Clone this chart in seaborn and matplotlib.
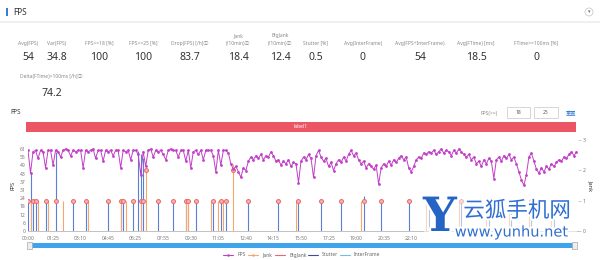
import numpy as np
import pandas as pd
import seaborn as sns
import matplotlib
matplotlib.use("Agg")
import matplotlib.pyplot as plt
from matplotlib.patches import Rectangle, Ellipse
from matplotlib.lines import Line2D
import matplotlib.patheffects as pe

# ---------------- data ----------------
stat_labels = ["Avg(FPS)", "Var(FPS)", "FPS>=18 [%]", "FPS>=25 [%]", "Drop(FPS) [/h]ⓘ",
               "(/10min)ⓘ", "(/10min)ⓘ", "Stutter [%]", "Avg(InterFrame)",
               "Avg(FPS+InterFrame)", "Avg(FTime) [ms]", "FTime>=100ms [%]"]
stat_top = ["", "", "", "", "", "Jank", "BigJank", "", "", "", "", ""]
stat_values = ["54", "34.8", "100", "100", "83.7", "18.4", "12.4", "0.5", "0", "54", "18.5", "0"]
delta_label = "Delta(FTime)>100ms [/h]ⓘ"
delta_value = "74.2"

fps = [
    60, 43, 59, 60, 54, 60, 59, 47, 60, 60, 49, 60, 59, 55, 60, 61, 60, 56, 60, 59,
    60, 60, 47, 60, 59, 60, 61, 54, 60, 60, 52, 60, 59, 60, 56, 60, 60, 47, 60, 59,
    60, 53, 60, 60, 57, 42, 59, 48, 60, 61, 55, 60, 59, 60, 57, 53, 60, 61, 60, 60,
    55, 60, 60, 52, 60, 47, 59, 60, 57, 60, 53, 60, 60, 60, 56, 44, 60, 49, 60, 60,
    58, 50, 46, 48, 44, 40, 47, 45, 52, 55, 53, 56, 54, 57, 53, 56, 55, 59, 56, 52,
    53, 49, 52, 50, 53, 48, 51, 50, 36, 52, 55, 53, 57, 54, 40, 56, 60, 55, 52, 54,
    48, 51, 45, 50, 53, 51, 55, 52, 57, 60, 56, 58, 53, 50, 52, 47, 50, 48, 46, 49,
    35, 47, 50, 48, 52, 49, 53, 51, 54, 56, 53, 55, 47, 44, 48, 53, 55, 54, 58, 57,
    59, 58, 60, 57, 59, 61, 58, 60, 59, 56, 60, 58, 61, 59, 57, 55, 57, 53, 55, 50,
    52, 48, 53, 50, 54, 52, 39, 53, 55, 52, 56, 54, 57, 53, 55, 50, 44, 38, 34, 42,
    55, 58, 52, 46, 43, 47, 44, 48, 46, 50, 48, 51, 53, 52, 55, 54, 57, 59, 56, 59,
]

# stutter spikes (sample index, height in Jank-axis units)
stutter_idx = [0, 1, 2, 3, 7, 11, 18, 23, 32, 37, 38, 42, 44, 45, 46, 52, 58, 63, 64, 67,
               74, 77, 79, 88, 100, 108, 117, 125, 134, 141, 152, 160, 173, 184, 193, 201, 210]
stutter_val = [1, 1.9, 1, 0.95, 1, 2.6, 1, 1, 1, 0.9, 1, 1, 2.65, 2.55, 2.4, 1, 1, 1, 0.8, 1,
               1, 1, 1, 1, 1, 1, 1, 1, 1.15, 1, 1, 0.9, 1, 1, 1, 1, 1]
# jank spikes
jank_idx = [1, 4, 8, 14, 24, 37, 39, 45, 47, 63, 64, 73, 76, 78, 82, 107, 133, 159, 172, 183, 192, 200, 209]
jank_val = [1, 1, 1, 1, 1, 1, 1, 1, 2, 1, 1, 1, 1, 1, 2.2, 1, 1, 1, 1, 1, 1, 1, 1]
# big-jank markers
bj_idx = [0, 2, 3, 7, 11, 18, 23, 32, 37, 38, 42, 45, 46, 47, 52, 58, 63, 64, 67, 74, 77, 79,
          82, 88, 100, 108, 117, 125, 134, 141, 152, 160, 173, 184, 193, 201, 210]
bj_val = [1, 1, 1, 1, 1, 1, 1, 1, 1, 1, 1, 1, 1, 2, 1, 1, 1, 1, 1, 1, 1, 1,
          2, 1, 1, 1, 1, 1, 1, 1, 1, 1, 1, 1, 1, 1, 1]

# labels beyond 22:10 are hidden under the watermark in the reference
time_labels = ["00:00", "01:25", "03:10", "04:45", "06:25", "07:55", "09:30", "11:05", "12:40",
               "14:15", "15:50", "17:25", "19:00", "20:35", "22:10", "", "", "", "", ""]
fps_ticks = [0, 6, 12, 18, 24, 31, 37, 43, 49, 55, 61]
jank_ticks = [0, 1, 2, 3]

legend_names = ["FPS", "Jank", "BigJank", "Stutter", "InterFrame"]

# ---------------- style ----------------
sns.set_theme(style="white")
plt.rcParams['font.family'] = ['Noto Sans', 'Noto Sans CJK SC', 'DejaVu Sans']

C_FPS = "#c23fc8"
C_JANK = "#f7a46e"
C_BIG = "#ee6666"
C_STUT = "#5b7fd2"
C_STUT_LEG = "#3e4f96"
C_INTER = "#73c0de"
C_BLUE = "#3a7bd5"
GRAY = "#8a8a8a"
DARK = "#333333"

W, H = 600, 260
fig = plt.figure(figsize=(6, 2.6), dpi=100)
fig.patch.set_facecolor("white")


def fx(x):
    return x / W


def fy(y):
    return 1 - y / H


def T(x, y, s, **kw):
    kw.setdefault("ha", "center")
    kw.setdefault("va", "center")
    fig.text(fx(x), fy(y), s, **kw)


# header
fig.add_artist(Rectangle((fx(6), fy(16)), 2 / W, 8 / H, transform=fig.transFigure,
                         color=C_BLUE, lw=0))
T(13, 12, "FPS", ha="left", fontsize=6, weight="bold", color=DARK)
fig.add_artist(Ellipse((fx(589), fy(12)), 8 / W, 8 / H, transform=fig.transFigure,
                       facecolor="white", edgecolor="#cccccc", lw=0.6))
T(589, 12, "▾", fontsize=3.5, color="#666666", family=["DejaVu Sans"])
fig.add_artist(Line2D([0, 1], [fy(22), fy(22)], transform=fig.transFigure,
                      color="#f0f0f0", lw=1.5))

# stats
stat_x = [28, 57, 99, 143, 190, 238, 280, 316, 363, 420, 476, 536]
for x, lab, top, val in zip(stat_x, stat_labels, stat_top, stat_values):
    T(x, 43, lab, fontsize=3.6, color=GRAY)
    if top:
        T(x, 35.5, top, fontsize=3.6, color=GRAY)
    T(x, 58, val, fontsize=7.5, weight="bold", color=DARK)
T(51, 76, delta_label, fontsize=3.6, color=GRAY)
T(52, 93, delta_value, fontsize=7.5, weight="bold", color=DARK)

# chart header
T(16, 113, "FPS", fontsize=4.5, weight="bold", color=DARK)
T(489, 113, "FPS(>=)", fontsize=3.6, color=GRAY)
for (x0, x1), s in zip([(507, 530), (534, 558)], ["18", "25"]):
    fig.add_artist(Rectangle((fx(x0), fy(118)), (x1 - x0) / W, 11 / H,
                             transform=fig.transFigure, facecolor="white",
                             edgecolor="#d0d0d0", lw=0.6))
    T((x0 + x1) / 2, 112.5, s, fontsize=3.6, color="#555555")
T(571, 112.5, "重置", fontsize=3.8, color=C_BLUE)

# red label bar
fig.add_artist(Rectangle((fx(26), fy(132)), 550 / W, 10 / H, transform=fig.transFigure,
                         color="#ec5563", lw=0))
T(301, 127, "label1", fontsize=3.6, color="white")

# ---------------- main axes ----------------
ax = fig.add_axes([fx(28), fy(231), 550 / W, 91 / H])
ax2 = ax.twinx()
ax.set_zorder(ax2.get_zorder() + 1)
ax.patch.set_visible(False)

n = len(fps)
df = pd.DataFrame({"idx": np.arange(n), "fps": fps})

# spikes & markers on Jank axis
ax2.vlines(stutter_idx, 0, stutter_val, color=C_STUT, lw=0.8, zorder=2)
ax2.vlines(jank_idx, 0, jank_val, color=C_JANK, lw=0.8, zorder=2)
sns.scatterplot(x=bj_idx, y=bj_val, ax=ax2, s=8, color="#f6b3b3",
                edgecolor=C_BIG, linewidth=0.7, zorder=4, legend=False)

# FPS line
sns.lineplot(data=df, x="idx", y="fps", ax=ax, color=C_FPS, lw=0.7, marker="o",
             markersize=2.0, markeredgewidth=0, zorder=3, legend=False)

ax.set_xlim(0, 219.6)
ax.set_ylim(0, 67.7)
ax2.set_ylim(0, 3)

tick_idx = [0] + [11 * j - 1 for j in range(1, len(time_labels))]
ax.set_xticks(tick_idx)
ax.set_xticklabels(time_labels)
ax.set_yticks([61 * i / 10 for i in range(11)])
ax.set_yticklabels([str(v) for v in fps_ticks])
ax2.set_yticks(jank_ticks)
ax2.set_yticklabels([str(v) for v in jank_ticks])

for a in (ax, ax2):
    for s in ("top", "left", "right", "bottom"):
        a.spines[s].set_visible(False)
ax.spines["bottom"].set_visible(True)
ax.spines["bottom"].set_color("#b8b8b8")
ax.spines["bottom"].set_linewidth(0.6)

ax.tick_params(axis="x", length=2, width=0.5, color="#b8b8b8", labelsize=3.6,
               labelcolor="#777777", pad=1.5)
ax.tick_params(axis="y", length=0, labelsize=3.6, labelcolor="#777777", pad=2)
ax2.tick_params(axis="y", length=2, width=0.5, color="#b8b8b8", labelsize=3.6,
                labelcolor="#777777", pad=1.5)
ax.set_xlabel("")
ax.set_ylabel("FPS", fontsize=4, weight="bold", color=DARK, labelpad=3)
ax2.set_ylabel("Jank", fontsize=4, weight="bold", color=DARK, rotation=270, labelpad=5)
ax.grid(False)
ax2.grid(False)

# slider
fig.add_artist(Rectangle((fx(31), fy(247.5)), 542 / W, 5 / H, transform=fig.transFigure,
                         color="#3fa4ec", lw=0))
for hx in (30, 574):
    fig.add_artist(Rectangle((fx(hx - 2.5), fy(248.5)), 5 / W, 7 / H, transform=fig.transFigure,
                             facecolor="#eeeeee", edgecolor="#a8a8a8", lw=0.5))

# legend
leg_icon_x = [228, 253, 280, 313, 345]
leg_text_x = [237, 262, 289, 322, 354]
leg_colors = [C_FPS, C_JANK, C_BIG, C_STUT_LEG, C_INTER]
leg_marker = [True, True, False, False, False]
for ix, tx, name, col, mk in zip(leg_icon_x, leg_text_x, legend_names, leg_colors, leg_marker):
    fig.add_artist(Line2D([fx(ix - 5), fx(ix + 5)], [fy(255), fy(255)],
                          transform=fig.transFigure, color=col, lw=0.8))
    if mk:
        fig.add_artist(Line2D([fx(ix)], [fy(255)], transform=fig.transFigure, color=col,
                              marker="o", markersize=1.8, markeredgewidth=0))
    T(tx, 255, name, ha="left", fontsize=3.6, color="#666666")

# watermark (with soft white veil)
fig.add_artist(Rectangle((fx(424), fy(241)), 153 / W, 46 / H, transform=fig.transFigure,
                         facecolor="white", alpha=0.55, lw=0, zorder=9))
glow = [pe.withStroke(linewidth=3, foreground="white")]
T(440, 218, "Y", fontsize=34, color="#2563c4", weight="bold", family=["DejaVu Serif"],
  path_effects=glow, zorder=10)
T(517, 211, "云狐手机网", fontsize=15.5, color="#2f6fd0", family=["Noto Sans CJK SC"],
  path_effects=glow, zorder=10)
T(512, 232, "www.yunhu.net", fontsize=10.5, color="#2f6fd0", family=["DejaVu Sans"],
  path_effects=glow, zorder=10)

fig.savefig("out.png", dpi=100, facecolor="white")
